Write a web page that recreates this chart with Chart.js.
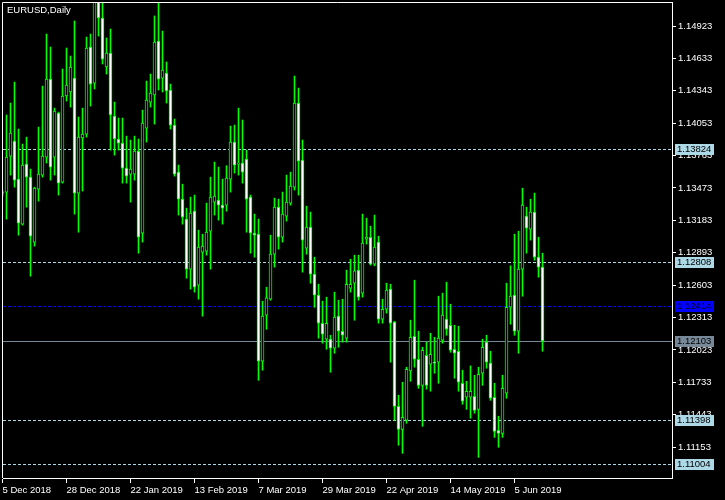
<!DOCTYPE html>
<html>
<head>
<meta charset="utf-8">
<title>EURUSD,Daily</title>
<script src="https://cdn.jsdelivr.net/npm/chart.js@4.4.1/dist/chart.umd.min.js"></script>
<style>
  html, body { margin: 0; padding: 0; background: #000; }
  canvas { display: block; }
</style>
</head>
<body>
<canvas id="chart" width="725" height="500"></canvas>
<script>
// ---- data ----
const symbolTitle = 'EURUSD,Daily';

const opens = [
  1.13427, 1.13436, 1.13758, 1.13893, 1.13552, 1.13149, 1.13687, 1.13570, 1.12988, 1.13463,
  1.13588, 1.13749, 1.14448, 1.13749, 1.14143, 1.13525, 1.14296, 1.14332, 1.14457, 1.13427,
  1.13920, 1.13955, 1.14735, 1.14412, 1.15183, 1.14995, 1.14556, 1.14681, 1.14117, 1.13911,
  1.13875, 1.13651, 1.13597, 1.13597, 1.13803, 1.13068, 1.14009, 1.14242, 1.14305, 1.14789,
  1.14457, 1.14502, 1.14350, 1.14036, 1.13615, 1.13373, 1.13194, 1.12746, 1.13265, 1.12602,
  1.12898, 1.12907, 1.13086, 1.13346, 1.13364, 1.13319, 1.13319, 1.13552, 1.13884, 1.13687,
  1.13696, 1.13731, 1.13391, 1.13068, 1.13059, 1.11921, 1.12334, 1.12477, 1.12880, 1.13301,
  1.13032, 1.13221, 1.13337, 1.13480, 1.14233, 1.13722, 1.12934, 1.13122, 1.12701, 1.12513,
  1.12262, 1.12119, 1.12119, 1.12038, 1.12325, 1.12190, 1.12128, 1.12575, 1.12620, 1.12737,
  1.12531, 1.13015, 1.13032, 1.12791, 1.12988, 1.12298, 1.12387, 1.12567, 1.12271, 1.11518,
  1.11312, 1.11393, 1.11835, 1.12145, 1.11939, 1.11706, 1.11975, 1.11895, 1.11913, 1.11913,
  1.12110, 1.12298, 1.12244, 1.12029, 1.12011, 1.11724, 1.11599, 1.11599, 1.11608, 1.11491,
  1.11814, 1.12092, 1.11904, 1.11599, 1.11303, 1.11276, 1.11635, 1.12405, 1.12513, 1.12190,
  1.12746, 1.13221, 1.13104, 1.13257, 1.12853, 1.12764
];
const highs = [
  1.13454, 1.14126, 1.14233, 1.14421, 1.14000, 1.13866, 1.13928, 1.13642, 1.13480, 1.14018,
  1.14385, 1.14851, 1.14735, 1.14188, 1.14152, 1.14538, 1.14726, 1.14654, 1.14968, 1.14108,
  1.14188, 1.14824, 1.14851, 1.15246, 1.15264, 1.15174, 1.14816, 1.14896, 1.14242, 1.14099,
  1.14099, 1.13937, 1.13902, 1.13937, 1.13911, 1.14170, 1.14430, 1.14493, 1.15013, 1.15201,
  1.14878, 1.14601, 1.14403, 1.14090, 1.13678, 1.13507, 1.13292, 1.13391, 1.13409, 1.13095,
  1.13059, 1.13337, 1.13570, 1.13705, 1.13660, 1.13552, 1.13672, 1.14027, 1.14036, 1.14188,
  1.14081, 1.13812, 1.13409, 1.13239, 1.13194, 1.12459, 1.12584, 1.13050, 1.13382, 1.13373,
  1.13436, 1.13588, 1.13615, 1.14475, 1.14367, 1.13902, 1.13310, 1.13257, 1.12853, 1.12611,
  1.12459, 1.12495, 1.12154, 1.12540, 1.12468, 1.12477, 1.12737, 1.12835, 1.12871, 1.12871,
  1.13239, 1.13203, 1.13131, 1.13230, 1.13041, 1.12477, 1.12620, 1.12611, 1.12280, 1.11617,
  1.11733, 1.11868, 1.12289, 1.12647, 1.12190, 1.12047, 1.12092, 1.12172, 1.12136, 1.12504,
  1.12531, 1.12629, 1.12432, 1.12244, 1.12235, 1.11841, 1.11742, 1.11880, 1.11796, 1.11868,
  1.12119, 1.12154, 1.12011, 1.11724, 1.11429, 1.11796, 1.12620, 1.12776, 1.13059, 1.13086,
  1.13471, 1.13301, 1.13373, 1.13427, 1.13032, 1.12889
];
const lows = [
  1.13400, 1.13194, 1.13588, 1.13480, 1.13050, 1.13140, 1.13301, 1.12683, 1.12952, 1.13355,
  1.13570, 1.13696, 1.13543, 1.13588, 1.13409, 1.13516, 1.14251, 1.14197, 1.13239, 1.13077,
  1.13445, 1.13928, 1.14206, 1.14359, 1.14833, 1.14583, 1.14493, 1.13812, 1.13767, 1.13812,
  1.13516, 1.13516, 1.13346, 1.13543, 1.12889, 1.12988, 1.13884, 1.14197, 1.14045, 1.14350,
  1.14332, 1.14233, 1.14000, 1.13579, 1.13230, 1.13149, 1.12665, 1.12567, 1.12540, 1.12477,
  1.12325, 1.12871, 1.12746, 1.13230, 1.13185, 1.13149, 1.13265, 1.13436, 1.13606, 1.13588,
  1.13516, 1.13077, 1.12889, 1.12853, 1.11751, 1.11841, 1.12208, 1.12468, 1.12764, 1.12925,
  1.12988, 1.13176, 1.13319, 1.13454, 1.13409, 1.12719, 1.12880, 1.12620, 1.12405, 1.12128,
  1.12083, 1.12029, 1.11823, 1.11993, 1.12047, 1.12092, 1.12092, 1.12540, 1.12289, 1.12468,
  1.12495, 1.12970, 1.12782, 1.12776, 1.12262, 1.12262, 1.12352, 1.11913, 1.11393, 1.11169,
  1.11097, 1.11366, 1.11742, 1.11868, 1.11679, 1.11339, 1.11671, 1.11653, 1.11814, 1.11724,
  1.12083, 1.12154, 1.12002, 1.11769, 1.11653, 1.11536, 1.11491, 1.11411, 1.11456, 1.11061,
  1.11706, 1.11859, 1.11572, 1.11240, 1.11151, 1.11240, 1.11590, 1.12253, 1.12154, 1.11993,
  1.12504, 1.12889, 1.13006, 1.12826, 1.12674, 1.12011
];
const closes = [
  1.13436, 1.13749, 1.13964, 1.13543, 1.13158, 1.13678, 1.13570, 1.13041, 1.13471, 1.13597,
  1.13758, 1.14448, 1.13660, 1.14161, 1.13516, 1.14296, 1.14394, 1.14556, 1.13427, 1.13928,
  1.13955, 1.14726, 1.14403, 1.15183, 1.14995, 1.14627, 1.14681, 1.14126, 1.13911, 1.13875,
  1.13651, 1.13579, 1.13642, 1.13803, 1.13032, 1.14054, 1.14260, 1.14323, 1.14780, 1.14448,
  1.14529, 1.14341, 1.14036, 1.13597, 1.13373, 1.13212, 1.12746, 1.13248, 1.12584, 1.12943,
  1.12952, 1.13077, 1.13391, 1.13400, 1.13319, 1.13292, 1.13561, 1.13884, 1.13678, 1.13696,
  1.13615, 1.13373, 1.13068, 1.13050, 1.11921, 1.12325, 1.12490, 1.12880, 1.13301, 1.13032,
  1.13239, 1.13346, 1.13489, 1.14233, 1.13713, 1.13006, 1.13122, 1.12701, 1.12513, 1.12262,
  1.12163, 1.12262, 1.12038, 1.12316, 1.12190, 1.12154, 1.12611, 1.12611, 1.12731, 1.12495,
  1.12979, 1.13032, 1.12791, 1.12943, 1.12298, 1.12387, 1.12558, 1.12262, 1.11518, 1.11312,
  1.11420, 1.11850, 1.12136, 1.11939, 1.11706, 1.12020, 1.11706, 1.11984, 1.11904, 1.12128,
  1.12334, 1.12208, 1.12020, 1.11993, 1.11733, 1.11563, 1.11653, 1.11653, 1.11482, 1.11805,
  1.12047, 1.11913, 1.11590, 1.11294, 1.11276, 1.11679, 1.12405, 1.12504, 1.12190, 1.12746,
  1.13319, 1.13113, 1.13257, 1.12853, 1.12764, 1.12103
];

// one date label every 16 daily bars
const dateLabels = ['5 Dec 2018', '28 Dec 2018', '22 Jan 2019', '13 Feb 2019', '7 Mar 2019',
                    '29 Mar 2019', '22 Apr 2019', '14 May 2019', '5 Jun 2019'];
const barsPerDateLabel = 16;

const priceTicks = [1.14923, 1.14633, 1.14343, 1.14053, 1.13763, 1.13473, 1.13183,
                    1.12893, 1.12603, 1.12313, 1.12023, 1.11733, 1.11443, 1.11153];

const alertLevels = [1.13824, 1.12808, 1.11398, 1.11004];
const askLevel = 1.12414;
const bidLevel = 1.12103;

// ---- look ----
const FONT_FAMILY = "'Liberation Sans', Arial, sans-serif";
const FONT_SIZE = 9.5;
const CANDLE_GREEN = '#00ff00';
const levelStyles = [
    { values: alertLevels, color: '#add8e6', dash: [3, 2] },
    { values: [askLevel], color: '#0000ff', dash: [3, 2] },
    { values: [bidLevel], color: '#778899', dash: [] }
];

// keep axis label overhang from shrinking the plot area
function noLabelPadding(scale) {
    scale.paddingTop = 0;
    scale.paddingBottom = 0;
    scale.paddingLeft = 0;
    scale.paddingRight = 0;
}

// ---- overlay: background, frame, title, price lines ----
const mt4Overlay = {
    id: 'mt4Overlay',
    beforeDraw(chart) {
        const c = chart.ctx;
        c.save();
        c.fillStyle = '#000000';
        c.fillRect(0, 0, chart.width, chart.height);
        c.restore();
    },
    beforeDatasetsDraw(chart) {
        const c = chart.ctx;
        const area = chart.chartArea;
        const y = chart.scales.y;
        c.save();
        c.lineWidth = 1;
        levelStyles.forEach(style => {
            style.values.forEach(v => {
                const py = Math.round(y.getPixelForValue(v)) + 0.5;
                c.strokeStyle = style.color;
                c.setLineDash(style.dash);
                c.beginPath();
                c.moveTo(area.left, py);
                c.lineTo(area.right, py);
                c.stroke();
            });
        });
        c.restore();
    },
    afterDraw(chart) {
        const c = chart.ctx;
        const area = chart.chartArea;
        const y = chart.scales.y;
        c.save();
        // top and left edges of the frame
        c.strokeStyle = '#ffffff';
        c.lineWidth = 1;
        c.beginPath();
        c.moveTo(area.left - 0.5, area.bottom);
        c.lineTo(area.left - 0.5, area.top + 0.5);
        c.lineTo(area.right, area.top + 0.5);
        c.stroke();

        // symbol title
        c.font = FONT_SIZE + 'px ' + FONT_FAMILY;
        c.fillStyle = '#ffffff';
        c.textBaseline = 'top';
        c.textAlign = 'left';
        c.fillText(symbolTitle, 7, 6);

        // price boxes on the right scale
        c.textBaseline = 'middle';
        levelStyles.forEach(style => {
            style.values.forEach(v => {
                const py = Math.round(y.getPixelForValue(v));
                c.fillStyle = style.color;
                c.fillRect(area.right + 3, py - 5, 39, 11);
                c.fillStyle = '#000000';
                c.fillText(v.toFixed(5), area.right + 5, py + 0.5);
            });
        });
        c.restore();
    }
};

// ---- chart ----
const barIndex = opens.map((_, i) => i);
const tickFont = { family: FONT_FAMILY, size: FONT_SIZE };

new Chart(document.getElementById('chart'), {
    type: 'bar',
    data: {
        datasets: [
            {
                label: 'bodies',
                order: 0,
                data: barIndex.map(i => ({ x: i, y: [opens[i], closes[i]] })),
                backgroundColor: barIndex.map(i => closes[i] < opens[i] ? '#ffffff' : '#000000'),
                borderColor: CANDLE_GREEN,
                borderWidth: 1,
                borderSkipped: false,
                barThickness: 3,
                minBarLength: 1,
                grouped: false
            },
            {
                label: 'wicks',
                order: 1,
                data: barIndex.map(i => ({ x: i, y: [lows[i], highs[i]] })),
                backgroundColor: CANDLE_GREEN,
                borderWidth: 0,
                barThickness: 1,
                grouped: false
            }
        ]
    },
    options: {
        responsive: false,
        animation: false,
        devicePixelRatio: 1,
        layout: { padding: { left: 3, top: 2, right: 0, bottom: 0 } },
        plugins: {
            legend: { display: false },
            tooltip: { enabled: false },
            title: { display: false }
        },
        scales: {
            x: {
                type: 'linear',
                position: 'bottom',
                min: 0.125,
                max: 167.375,
                offset: false,
                afterBuildTicks: scale => {
                    scale.ticks = dateLabels.map((_, k) => ({ value: k * barsPerDateLabel }));
                },
                afterFit: scale => { scale.height = 22; noLabelPadding(scale); },
                grid: { drawOnChartArea: false, drawTicks: true, tickLength: 5, color: '#ffffff', offset: false },
                border: { display: true, color: '#ffffff' },
                ticks: {
                    color: '#ffffff',
                    font: tickFont,
                    align: 'start',
                    padding: 2,
                    maxRotation: 0,
                    autoSkip: false,
                    callback: value => dateLabels[Math.round(value / barsPerDateLabel)]
                }
            },
            y: {
                type: 'linear',
                position: 'right',
                min: 1.10876,
                max: 1.15138,
                afterBuildTicks: scale => {
                    scale.ticks = priceTicks.map(v => ({ value: v }));
                },
                afterFit: scale => { scale.width = 53; noLabelPadding(scale); },
                grid: { drawOnChartArea: false, drawTicks: true, tickLength: 4, color: '#ffffff' },
                border: { display: true, color: '#ffffff' },
                ticks: {
                    color: '#ffffff',
                    font: tickFont,
                    padding: 2,
                    autoSkip: false,
                    callback: value => value.toFixed(5)
                }
            }
        }
    },
    plugins: [mt4Overlay]
});
</script>
</body>
</html>
